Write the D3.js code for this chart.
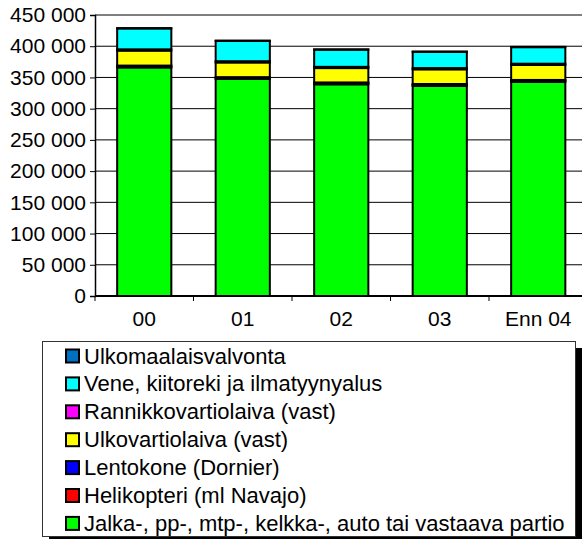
<!DOCTYPE html>
<html>
<head>
<meta charset="utf-8">
<script src="https://cdn.jsdelivr.net/npm/d3@7"></script>
<style>
  body { margin: 0; background: #fff; }
  svg { display: block; }
  text { font-family: "Liberation Sans", Arial, sans-serif; fill: #000; }
</style>
</head>
<body>
<svg id="chart" width="582" height="539"></svg>
<script>
// vuodet
const categories = ["00", "01", "02", "03", "Enn 04"];

// sarjat alhaalta ylös
const jalka = [366000, 347500, 339000, 336500, 343000];
const helikopteri = [1500, 1500, 1500, 1500, 1500];
const lentokone = [1500, 1500, 1500, 1500, 1500];
const ulkovartiolaiva = [24000, 23500, 23000, 23500, 24000];
const rannikkovartiolaiva = [2000, 2000, 2000, 2000, 2000];
const vene = [33500, 32500, 27500, 26000, 26500];
const ulkomaalaisvalvonta = [500, 500, 500, 500, 500];

const yTicks = [0, 50000, 100000, 150000, 200000, 250000, 300000, 350000, 400000, 450000];

const series = [
    { name: "Jalka-, pp-, mtp-, kelkka-, auto tai vastaava partio", values: jalka, color: "#00ff00" },
    { name: "Helikopteri (ml Navajo)", values: helikopteri, color: "#ff0000" },
    { name: "Lentokone (Dornier)", values: lentokone, color: "#0000ff" },
    { name: "Ulkovartiolaiva (vast)", values: ulkovartiolaiva, color: "#ffff00" },
    { name: "Rannikkovartiolaiva (vast)", values: rannikkovartiolaiva, color: "#ff00ff" },
    { name: "Vene, kiitoreki ja ilmatyynyalus", values: vene, color: "#00ffff" },
    { name: "Ulkomaalaisvalvonta", values: ulkomaalaisvalvonta, color: "#0070c0" }
];

const FS = "21px";
const svg = d3.select("#chart");

// taulukko stackia varten
const rows = categories.map((c, i) => {
    const r = { cat: c };
    series.forEach(s => r[s.name] = s.values[i]);
    return r;
});
const stacked = d3.stack().keys(series.map(s => s.name))(rows);

const x = d3.scaleBand()
    .domain(categories)
    .range([95, 587.5])
    .paddingInner(0.45)
    .paddingOuter(0.225);

const y = d3.scaleLinear()
    .domain([0, 450000])
    .range([296, 15]);

// ruudukko
svg.append("g")
    .selectAll("line")
    .data(yTicks)
    .enter().append("line")
    .attr("x1", 95)
    .attr("x2", 582)
    .attr("y1", d => y(d))
    .attr("y2", d => y(d))
    .attr("stroke", "#000")
    .attr("stroke-width", 1);

// pylväät
svg.append("g")
    .selectAll("g")
    .data(stacked)
    .enter().append("g")
    .attr("fill", (d, i) => series[i].color)
    .selectAll("rect")
    .data(d => d)
    .enter().append("rect")
    .attr("x", d => x(d.data.cat))
    .attr("width", x.bandwidth())
    .attr("y", d => y(d[1]))
    .attr("height", d => y(d[0]) - y(d[1]))
    .attr("stroke", "#000")
    .attr("stroke-width", 2);

// y-akseli
const fmt = v => d3.format(",")(v).replace(/,/g, " ");
const yAxis = svg.append("g")
    .attr("transform", "translate(95,0)")
    .call(d3.axisLeft(y).tickValues(yTicks).tickSize(5).tickPadding(4).tickFormat(fmt));
yAxis.select(".domain").attr("stroke", "#000").attr("stroke-width", 1.5);
yAxis.selectAll("text")
    .attr("font-size", FS)
    .attr("font-family", "'Liberation Sans', Arial, sans-serif")
    .attr("fill", "#000");

// x-akseli
const xg = svg.append("g").attr("transform", "translate(0,296)");
xg.append("line")
    .attr("x1", 95).attr("x2", 582)
    .attr("stroke", "#000").attr("stroke-width", 2);
const step = x.step();
xg.selectAll(".tk")
    .data(d3.range(categories.length + 1))
    .enter().append("line")
    .attr("class", "tk")
    .attr("x1", i => 95 + i * step)
    .attr("x2", i => 95 + i * step)
    .attr("y1", 0).attr("y2", 5)
    .attr("stroke", "#000");
xg.selectAll("text")
    .data(categories)
    .enter().append("text")
    .attr("x", d => x(d) + x.bandwidth() / 2)
    .attr("y", 30)
    .attr("text-anchor", "middle")
    .attr("font-size", FS)
    .text(d => d);

// selite
const lg = svg.append("g");
lg.append("rect")
    .attr("x", 49).attr("y", 348)
    .attr("width", 533).attr("height", 195)
    .attr("fill", "#000");
lg.append("rect")
    .attr("x", 42.5).attr("y", 341.5)
    .attr("width", 533).attr("height", 195)
    .attr("fill", "#fff")
    .attr("stroke", "#333")
    .attr("stroke-width", 1);

const legendItems = series.slice().reverse();
const item = lg.selectAll(".item")
    .data(legendItems)
    .enter().append("g")
    .attr("class", "item")
    .attr("transform", (d, i) => `translate(0,${356 + i * 27.9})`);
item.append("rect")
    .attr("x", 66).attr("y", -6.5)
    .attr("width", 13).attr("height", 13)
    .attr("fill", d => d.color)
    .attr("stroke", "#000")
    .attr("stroke-width", 2);
item.append("text")
    .attr("x", 84)
    .attr("y", 7.5)
    .attr("font-size", "22px")
    .text(d => d.name);
</script>
</body>
</html>
